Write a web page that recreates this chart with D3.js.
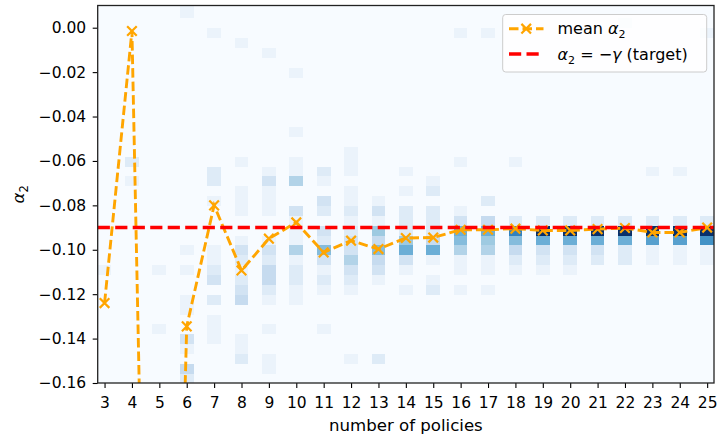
<!DOCTYPE html>
<html>
<head>
<meta charset="utf-8">
<script src="https://cdn.jsdelivr.net/npm/d3@7"></script>
<style>
  html, body { margin: 0; padding: 0; background: #ffffff; }
  svg { display: block; font-family: "DejaVu Sans", sans-serif; }
</style>
</head>
<body>
<svg id="chart" width="718" height="438"></svg>
<script>
// Number of policies on the x axis
const policies = [3, 4, 5, 6, 7, 8, 9, 10, 11, 12, 13, 14, 15, 16, 17, 18, 19, 20, 21, 22, 23, 24, 25];

// Mean fitted alpha_2 for each number of policies
const meanAlpha2 = [-0.124, -0.0015, -0.60, -0.1345, -0.0800, -0.1093, -0.0950, -0.0877, -0.1012,
                    -0.0959, -0.0997, -0.0947, -0.0945, -0.0910, -0.0910, -0.0905, -0.0913, -0.0913,
                    -0.0907, -0.0902, -0.0922, -0.0922, -0.0900];

// Target value alpha_2 = -gamma
const targetAlpha2 = -0.09;

// alpha_2 histogram bins: lower edge of bin 0 and bin width
const binOrigin = -0.1603;
const binWidth = 0.004445;

// Histogram counts per number of policies, as [bin index, count] pairs
const binCounts = [
  [[11, 1]],
  [[22, 2], [20, 1]],
  [[11, 1], [5, 1]],
  [[38, 1], [37, 1], [13, 1], [11, 1], [8, 1], [7, 1], [4, 3], [3, 1], [1, 4], [0, 2]],
  [[35, 1], [21, 2], [20, 2], [18, 1], [13, 1], [12, 1], [11, 2], [10, 3], [8, 2], [6, 1], [5, 1], [4, 1]],
  [[34, 1], [22, 1], [19, 1], [18, 1], [17, 1], [14, 1], [13, 3], [12, 2], [11, 1], [10, 2], [9, 3], [8, 4], [4, 1], [3, 1], [2, 2]],
  [[33, 1], [21, 1], [20, 3], [19, 1], [18, 1], [17, 1], [14, 1], [13, 3], [12, 2], [11, 4], [10, 4], [9, 2], [8, 1], [5, 1], [2, 1], [1, 1]],
  [[31, 1], [25, 1], [22, 1], [21, 1], [20, 5], [17, 3], [16, 1], [15, 1], [14, 1], [13, 5], [12, 1], [11, 2], [10, 2], [9, 1], [8, 1]],
  [[21, 2], [20, 1], [18, 3], [17, 2], [15, 3], [14, 2], [13, 7], [12, 3], [11, 1], [10, 2], [9, 1], [5, 1]],
  [[23, 1], [22, 1], [21, 1], [19, 1], [18, 1], [17, 2], [16, 1], [15, 2], [14, 3], [13, 3], [12, 5], [11, 3], [10, 2], [9, 1], [2, 1]],
  [[18, 1], [17, 3], [16, 1], [15, 6], [14, 4], [13, 7], [12, 4], [11, 3], [10, 1], [2, 2]],
  [[21, 1], [19, 1], [17, 2], [16, 2], [15, 2], [14, 6], [13, 8], [12, 3], [11, 1], [9, 1]],
  [[20, 1], [19, 2], [17, 2], [16, 2], [15, 2], [14, 4], [13, 8], [12, 1], [10, 1], [9, 2]],
  [[35, 1], [22, 1], [17, 1], [16, 3], [15, 8], [14, 7], [13, 5], [12, 1], [11, 1], [9, 1]],
  [[35, 1], [18, 2], [16, 4], [15, 8], [14, 6], [13, 5], [12, 1], [11, 1], [9, 1]],
  [[22, 1], [16, 2], [15, 11], [14, 7], [13, 4], [12, 2], [11, 1]],
  [[16, 2], [15, 16], [14, 8], [13, 3], [12, 2], [11, 1]],
  [[16, 2], [15, 16], [14, 8], [13, 3], [12, 2], [11, 1]],
  [[16, 2], [15, 16], [14, 8], [13, 3], [12, 2]],
  [[36, 1], [16, 2], [15, 16], [14, 8], [13, 2], [12, 2]],
  [[21, 1], [16, 2], [15, 16], [14, 9], [13, 1], [12, 1]],
  [[21, 1], [16, 2], [15, 16], [14, 9], [13, 1], [12, 1]],
  [[35, 1], [16, 2], [15, 16], [14, 10], [13, 1], [12, 1]]
];

// Axis ticks
const yTicks = [0.00, -0.02, -0.04, -0.06, -0.08, -0.10, -0.12, -0.14, -0.16];

// Blues colour map stops
const bluesStops = ["#f7fbff", "#deebf7", "#c6dbef", "#9ecae1", "#6baed6", "#4292c6", "#2171b5", "#08519c", "#08306b"];

const svg = d3.select("#chart");
const plot = { left: 97.7, right: 714, top: 5.5, bottom: 383 };

const x = d3.scaleLinear().domain([2.75, 25.25]).range([plot.left, plot.right]);
const y = d3.scaleLinear().domain([-0.16, 0.01]).range([plot.bottom, plot.top]);

const blues = d3.scaleLinear()
  .domain(bluesStops.map((_, i) => i / (bluesStops.length - 1)))
  .range(bluesStops)
  .interpolate(d3.interpolateRgb)
  .clamp(true);

svg.append("defs").append("clipPath").attr("id", "plot-clip")
  .append("rect")
  .attr("x", plot.left).attr("y", plot.top)
  .attr("width", plot.right - plot.left).attr("height", plot.bottom - plot.top);

// Empty-bin background
svg.append("rect")
  .attr("x", plot.left).attr("y", plot.top)
  .attr("width", plot.right - plot.left).attr("height", plot.bottom - plot.top)
  .attr("fill", blues(0));

// Histogram cells
const cells = [];
policies.forEach((p, i) => {
  binCounts[i].forEach(([bin, count]) => cells.push({ p, bin, count }));
});
const maxCount = d3.max(cells, d => d.count);

const data = svg.append("g").attr("clip-path", "url(#plot-clip)");

data.append("g").attr("shape-rendering", "crispEdges")
  .selectAll("rect").data(cells).join("rect")
  .attr("x", d => x(d.p - 0.25))
  .attr("width", d => x(d.p + 0.25) - x(d.p - 0.25))
  .attr("y", d => y(binOrigin + (d.bin + 1) * binWidth))
  .attr("height", d => y(binOrigin + d.bin * binWidth) - y(binOrigin + (d.bin + 1) * binWidth))
  .attr("fill", d => blues(d.count / maxCount));

// Mean line with x markers
const meanPts = policies.map((p, i) => [p, meanAlpha2[i]]);
const orange = "#ffa500";
data.append("path")
  .datum(meanPts)
  .attr("d", d3.line().x(d => x(d[0])).y(d => y(d[1])))
  .attr("fill", "none")
  .attr("stroke", orange)
  .attr("stroke-width", 2.9)
  .attr("stroke-dasharray", "9.5,4");

function xMarker(sel, s) {
  return sel.attr("d", `M${-s},${-s}L${s},${s}M${-s},${s}L${s},${-s}`)
    .attr("fill", "none").attr("stroke", orange).attr("stroke-width", 2.2);
}
data.append("g").selectAll("path").data(meanPts).join("path")
  .attr("transform", d => `translate(${x(d[0])},${y(d[1])})`)
  .call(xMarker, 4.8);

// Target line
data.append("line")
  .attr("x1", plot.left).attr("x2", plot.right)
  .attr("y1", y(targetAlpha2)).attr("y2", y(targetAlpha2))
  .attr("stroke", "#ff0000")
  .attr("stroke-width", 3.4)
  .attr("stroke-dasharray", "12.2,5.3");

// Axes
const xAxis = svg.append("g")
  .attr("transform", `translate(0,${plot.bottom})`)
  .call(d3.axisBottom(x).tickValues(policies).tickFormat(d3.format("d")).tickSize(5).tickPadding(9));
const yAxis = svg.append("g")
  .attr("transform", `translate(${plot.left},0)`)
  .call(d3.axisLeft(y).tickValues(yTicks).tickFormat(d3.format(".2f")).tickSize(5).tickPadding(6.5));

[xAxis, yAxis].forEach(g => {
  g.select(".domain").remove();
  g.selectAll(".tick line").attr("stroke", "#000").attr("stroke-width", 1.1);
  g.selectAll(".tick text").attr("fill", "#000").attr("font-size", "15.5px")
    .attr("font-family", "DejaVu Sans, sans-serif");
});

// Frame
svg.append("rect")
  .attr("x", plot.left).attr("y", plot.top)
  .attr("width", plot.right - plot.left).attr("height", plot.bottom - plot.top)
  .attr("fill", "none").attr("stroke", "#222").attr("stroke-width", 1.3);

// Axis labels
svg.append("text")
  .attr("x", (plot.left + plot.right) / 2).attr("y", 431)
  .attr("text-anchor", "middle").attr("font-size", "16.6px").attr("fill", "#000")
  .text("number of policies");

const yLab = svg.append("text")
  .attr("transform", `translate(24,${(plot.top + plot.bottom) / 2}) rotate(-90)`)
  .attr("text-anchor", "middle").attr("font-size", "16.6px").attr("fill", "#000");
yLab.append("tspan").attr("font-style", "italic").text("α");
yLab.append("tspan").attr("font-size", "11.5px").attr("dy", 4).text("2");

// Legend
const legend = svg.append("g");
legend.append("rect")
  .attr("x", 502.7).attr("y", 14.5).attr("width", 204).attr("height", 57.5)
  .attr("rx", 3).attr("ry", 3)
  .attr("fill", "#ffffff").attr("fill-opacity", 0.8)
  .attr("stroke", "#cccccc").attr("stroke-width", 1);

legend.append("line")
  .attr("x1", 509).attr("x2", 543.5).attr("y1", 28.7).attr("y2", 28.7)
  .attr("stroke", orange).attr("stroke-width", 2.9).attr("stroke-dasharray", "9.5,4");
legend.append("path")
  .attr("transform", "translate(526.2,28.7)")
  .call(xMarker, 4.8);

legend.append("line")
  .attr("x1", 509).attr("x2", 543.5).attr("y1", 54).attr("y2", 54)
  .attr("stroke", "#ff0000").attr("stroke-width", 3.4).attr("stroke-dasharray", "12.2,5.3");

const t1 = legend.append("text").attr("x", 557.5).attr("y", 34)
  .attr("font-size", "16px").attr("fill", "#000");
t1.append("tspan").text("mean ");
t1.append("tspan").attr("font-style", "italic").text("α");
t1.append("tspan").attr("font-size", "11px").attr("dy", 4).text("2");

const t2 = legend.append("text").attr("x", 557.5).attr("y", 59.5)
  .attr("font-size", "16px").attr("fill", "#000");
t2.append("tspan").attr("font-style", "italic").text("α");
t2.append("tspan").attr("font-size", "11px").attr("dy", 4).text("2");
t2.append("tspan").attr("dy", -4).text(" = \u2212");
t2.append("tspan").attr("font-style", "italic").text("γ");
t2.append("tspan").text(" (target)");
</script>
</body>
</html>
